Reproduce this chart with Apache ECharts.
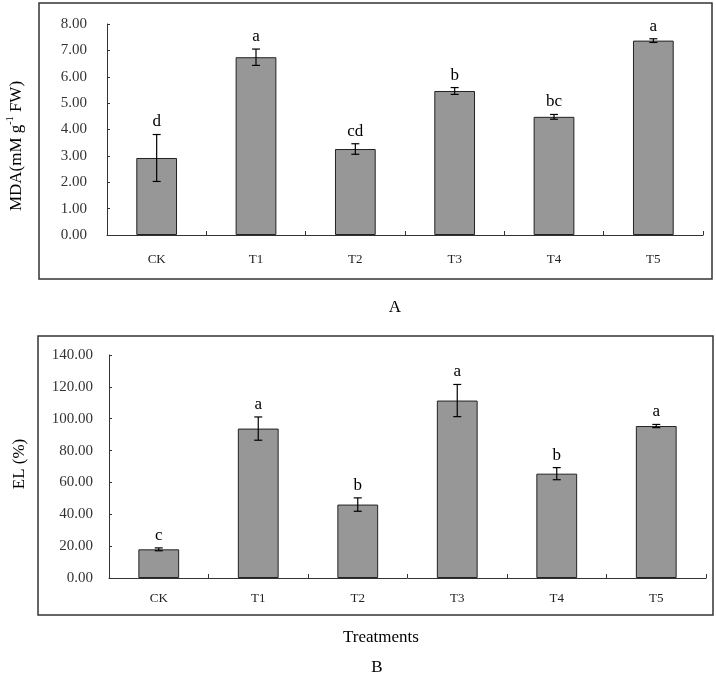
<!DOCTYPE html>
<html><head><meta charset="utf-8">
<script src="https://cdn.jsdelivr.net/npm/echarts@6/dist/echarts.min.js"></script>
<style>html,body{margin:0;padding:0;background:#fff}#c{width:716px;height:677px}</style>
</head><body><div id="c"></div>
<script>
const categories = ['CK','T1','T2','T3','T4','T5'];
const mdaMean = [2.92, 6.74, 3.26, 5.46, 4.48, 7.37];
const mdaErr  = [0.89, 0.31, 0.20, 0.13, 0.09, 0.07];
const mdaLetters = ['d','a','cd','b','bc','a'];
const elMean = [18.0, 93.8, 46.1, 111.4, 65.5, 95.4];
const elErr  = [0.9, 7.3, 4.2, 10.1, 3.8, 1.0];
const elLetters = ['c','a','b','a','b','a'];
const mdaTicks = {min:0, max:8, interval:1};
const elTicks = {min:0, max:140, interval:20};

const serif = 'Liberation Serif';
const axisColor = '#333';

function errData(mean, err){
  return mean.map((m,i)=>[i, m, err[i]]);
}
function makeRender(letters){
  return function(params, api){
    const i = api.value(0), m = api.value(1), e = api.value(2);
    const letter = letters[params.dataIndex];
    const top = api.coord([i, m+e]);
    const bot = api.coord([i, m-e]);
    const cap = 4;
    const st = {stroke:'#000', lineWidth:1.2};
    return {type:'group', children:[
      {type:'line', shape:{x1:top[0],y1:top[1],x2:bot[0],y2:bot[1]}, style:st},
      {type:'line', shape:{x1:top[0]-cap,y1:top[1],x2:top[0]+cap,y2:top[1]}, style:st},
      {type:'line', shape:{x1:bot[0]-cap,y1:bot[1],x2:bot[0]+cap,y2:bot[1]}, style:st},
      {type:'text', x:top[0], y:top[1]-4, style:{text:letter, fontFamily:serif, fontSize:17, fill:'#000', align:'center', verticalAlign:'bottom'}}
    ]};
  };
}
function yAx(idx, t, margin){
  return {type:'value', gridIndex:idx, min:t.min, max:t.max, interval:t.interval,
    axisLine:{show:true, lineStyle:{color:axisColor, width:1}},
    axisTick:{show:true, inside:true, length:3, lineStyle:{color:axisColor}},
    splitLine:{show:false},
    axisLabel:{formatter:v=>v.toFixed(2), fontFamily:serif, fontSize:15, color:'#333', margin:margin}};
}
function xAx(idx, margin){
  return {type:'category', gridIndex:idx, data:categories,
    axisLine:{lineStyle:{color:axisColor, width:1}},
    axisTick:{show:true, inside:true, length:4, lineStyle:{color:axisColor}},
    axisLabel:{fontFamily:serif, fontSize:13, color:'#222', margin:margin}};
}
const barStyle = {color:'#979797', borderColor:'#222', borderWidth:1};

const chart = echarts.init(document.getElementById('c'), null, {renderer:'canvas'});
chart.setOption({
  animation:false,
  backgroundColor:'#fff',
  grid:[
    {left:107, right:13, top:24, bottom:442},
    {left:109, right:10, top:355, bottom:99}
  ],
  xAxis:[xAx(0,18), xAx(1,14)],
  yAxis:[yAx(0, mdaTicks, 20), yAx(1, elTicks, 16)],
  series:[
    {type:'bar', xAxisIndex:0, yAxisIndex:0, data:mdaMean, barWidth:'41%', itemStyle:barStyle},
    {type:'custom', xAxisIndex:0, yAxisIndex:0, data:errData(mdaMean, mdaErr), renderItem:makeRender(mdaLetters), z:5},
    {type:'bar', xAxisIndex:1, yAxisIndex:1, data:elMean, barWidth:'41%', itemStyle:barStyle},
    {type:'custom', xAxisIndex:1, yAxisIndex:1, data:errData(elMean, elErr), renderItem:makeRender(elLetters), z:5}
  ],
  graphic:[
    {type:'rect', shape:{x:39, y:3, width:673, height:276}, style:{fill:null, stroke:'#333', lineWidth:1.5}, z:-1},
    {type:'rect', shape:{x:38, y:336, width:675, height:279}, style:{fill:null, stroke:'#333', lineWidth:1.5}, z:-1},
    {type:'text', x:15, y:146, rotation:Math.PI/2,
      style:{text:'{a|MDA(mM g}{s|-1}{a| FW)}', align:'center', verticalAlign:'middle',
        rich:{a:{fontFamily:serif, fontSize:17, lineHeight:20, fill:'#000', verticalAlign:'bottom'},
              s:{fontFamily:serif, fontSize:10, lineHeight:20, fill:'#000', verticalAlign:'top'}}}},
    {type:'text', x:20, y:464, rotation:Math.PI/2,
      style:{text:'EL (%)', fontFamily:serif, fontSize:17, fill:'#000', align:'center', verticalAlign:'middle'}},
    {type:'text', x:395, y:308, style:{text:'A', fontFamily:serif, fontSize:17, fill:'#000', align:'center', verticalAlign:'middle'}},
    {type:'text', x:381, y:638, style:{text:'Treatments', fontFamily:serif, fontSize:17, fill:'#000', align:'center', verticalAlign:'middle'}},
    {type:'text', x:377, y:668, style:{text:'B', fontFamily:serif, fontSize:17, fill:'#000', align:'center', verticalAlign:'middle'}}
  ]
});
</script></body></html>
